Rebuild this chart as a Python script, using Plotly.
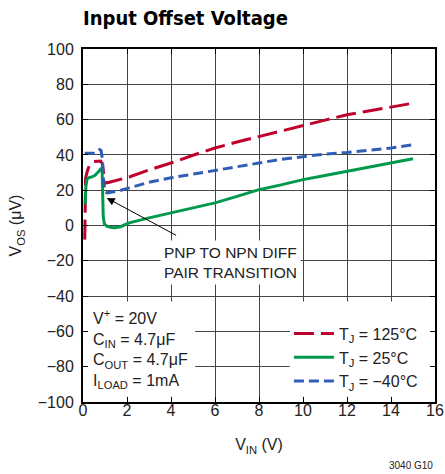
import plotly.graph_objects as go

# ---- data ----
vin_125 = [0.08, 0.09, 0.10, 0.12, 0.20, 0.30, 0.50, 0.80, 0.88, 0.95, 1.00, 1.20, 1.60, 2.10,
           3, 4, 5, 6, 7, 8, 9, 10, 11, 12, 13, 14, 15]
vos_125 = [-8, 5, 20, 27, 31, 34.5, 36.2, 36.5, 35, 28, 24, 24.5, 26, 27.5,
           31.5, 35.4, 39.8, 43.9, 47.3, 50.5, 53.5, 56.5, 59.7, 62.7, 65, 67, 69.3]

vin_25 = [0.10, 0.13, 0.18, 0.25, 0.40, 0.55, 0.70, 0.78, 0.83, 0.87, 0.90, 0.92, 0.97, 1.10,
          1.30, 1.45, 1.70, 2.10, 3, 4, 5, 6, 7, 8, 9, 10, 11, 12, 13, 14, 15]
vos_25 = [12, 22, 26, 27, 27.5, 28.5, 30.5, 32, 32.5, 31, 20, 5, 1, -0.5,
          -1.2, -1.3, -0.7, 1.5, 4.3, 7.2, 10, 12.8, 16.5, 20.3, 23, 26, 28.3, 30.7, 33, 35.4, 37.8]

vin_m40 = [0.08, 0.30, 0.55, 0.65, 0.75, 0.82, 0.88, 0.93, 1.00, 1.10, 1.30, 1.60, 2.10,
           3, 4, 5, 6, 7, 8, 9, 10, 11, 12, 13, 14, 15]
vos_m40 = [41, 41, 41, 42, 43, 42.5, 38, 26, 19, 18.5, 19, 19.5, 21.3,
           24.5, 27, 29, 31, 33.3, 35.4, 37.5, 39.2, 40.5, 41.4, 42.6, 43.9, 45.8]

series_names = ["T<sub>J</sub> = 125°C", "T<sub>J</sub> = 25°C", "T<sub>J</sub> = −40°C"]
series_colors = ["#C0002C", "#00994C", "#2F5EB4"]
series_dash = ["20px,7px", "solid", "10px,5px"]

x_ticks = [0, 2, 4, 6, 8, 10, 12, 14, 16]
y_ticks = [-100, -80, -60, -40, -20, 0, 20, 40, 60, 80, 100]

FONT = "Liberation Sans, Arial, Helvetica, sans-serif"
TFONT = "DejaVu Sans Condensed, DejaVu Sans, sans-serif"
TXT = "#222222"
FS = 16

fig = go.Figure()
for xs, ys, name, col, dash in zip([vin_125, vin_25, vin_m40], [vos_125, vos_25, vos_m40],
                                   series_names, series_colors, series_dash):
    fig.add_trace(go.Scatter(x=xs, y=ys, mode="lines", name=name,
                             line=dict(color=col, width=3, dash=dash)))

# white panels that hide the grid behind the text blocks
fig.add_shape(type="rect", xref="x", yref="y", x0=0, x1=5.1, y0=-97, y1=-43,
              fillcolor="white", line=dict(width=0), layer="between")
fig.add_shape(type="rect", xref="x", yref="y", x0=9.4, x1=16, y0=-97, y1=-43,
              fillcolor="white", line=dict(width=0), layer="between")

axis_common = dict(showline=True, linecolor="black", linewidth=2, mirror="allticks",
                   ticks="inside", ticklen=5, tickcolor="black", tickwidth=1,
                   showgrid=True, gridcolor="#444444", gridwidth=1, zeroline=False,
                   automargin=False,
                   tickfont=dict(family=FONT, size=FS, color=TXT))

fig.update_xaxes(range=[0, 16], tickvals=x_ticks, ticktext=[str(v) for v in x_ticks],
                 title=dict(text="V<sub>IN</sub> (V)", font=dict(family=FONT, size=FS, color=TXT),
                            standoff=21),
                 ticklabelstandoff=-7,
                 **axis_common)
fig.update_yaxes(range=[-100, 100], tickvals=y_ticks,
                 ticktext=[("−" + str(-v)) if v < 0 else str(v) for v in y_ticks],
                 title=dict(text="V<sub>OS</sub> (μV)", font=dict(family=FONT, size=FS, color=TXT),
                            standoff=12),
                 ticklabelstandoff=4,
                 **axis_common)

fig.add_annotation(xref="x", yref="y", x=0.35, y=-70, xanchor="left", yanchor="middle",
                   align="left", showarrow=False,
                   text="V<sup>+</sup> = 20V<br>C<sub>IN</sub> = 4.7μF<br>C<sub>OUT</sub> = 4.7μF<br>I<sub>LOAD</sub> = 1mA",
                   font=dict(family=FONT, size=FS, color=TXT))

fig.add_annotation(xref="x", yref="y", x=1.08, y=15.6, axref="x", ayref="y", ax=4.3, ay=-6,
                   text="", showarrow=True, arrowhead=2, arrowsize=1.6, arrowwidth=1,
                   arrowcolor="black")
fig.add_annotation(xref="x", yref="y", x=3.5, y=-20.8, xanchor="left", yanchor="middle",
                   align="left", showarrow=False, bgcolor="white", borderpad=3,
                   text="PNP TO NPN DIFF<br>PAIR TRANSITION",
                   font=dict(family=FONT, size=15.5, color=TXT))

fig.add_annotation(xref="paper", yref="paper", x=1, y=-0.18, xanchor="right", yanchor="middle",
                   showarrow=False, text="3040 G10",
                   font=dict(family=FONT, size=10, color=TXT))

fig.update_layout(
    width=445, height=474,
    margin=dict(l=83, r=10, t=49, b=72),
    paper_bgcolor="white", plot_bgcolor="white",
    title=dict(text="<b>Input Offset Voltage</b>", x=83 / 445, xanchor="left",
               y=1 - 18 / 474, yanchor="middle", xref="container", yref="container",
               font=dict(family=TFONT, size=20, color="black")),
    showlegend=True,
    legend=dict(x=0.585, y=0.242, xanchor="left", yanchor="top", bgcolor="rgba(0,0,0,0)",
                font=dict(family=FONT, size=FS, color=TXT), itemwidth=40,
                tracegroupgap=0),
)

fig.write_html("out.html", config={"displayModeBar": False},
               post_script="document.body.style.margin='0';document.body.style.padding='0';")
